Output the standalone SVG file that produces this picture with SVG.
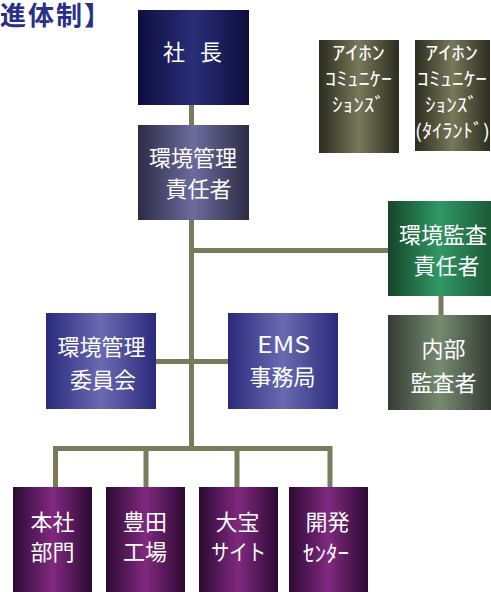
<svg xmlns="http://www.w3.org/2000/svg" width="491" height="592" viewBox="0 0 491 592">
<defs>
<linearGradient id="gNavy" x1="0" y1="0" x2="1" y2="0"><stop offset="0" stop-color="#0e0e3c"/><stop offset="0.5" stop-color="#2a2e7a"/><stop offset="1" stop-color="#0e0e3c"/></linearGradient>
<linearGradient id="gSlate" x1="0" y1="0" x2="1" y2="0"><stop offset="0" stop-color="#2c2c46"/><stop offset="0.5" stop-color="#6c6b9e"/><stop offset="1" stop-color="#2c2c46"/></linearGradient>
<linearGradient id="gGreen" x1="0" y1="0" x2="1" y2="0"><stop offset="0" stop-color="#164529"/><stop offset="0.5" stop-color="#2f9865"/><stop offset="1" stop-color="#1c5a38"/></linearGradient>
<linearGradient id="gGrey" x1="0" y1="0" x2="1" y2="0"><stop offset="0" stop-color="#343c32"/><stop offset="0.5" stop-color="#768b72"/><stop offset="1" stop-color="#343c32"/></linearGradient>
<linearGradient id="gBlue" x1="0" y1="0" x2="1" y2="0"><stop offset="0" stop-color="#2a2a7c"/><stop offset="0.5" stop-color="#6a6ab2"/><stop offset="1" stop-color="#2a2a7c"/></linearGradient>
<linearGradient id="gPurple" x1="0" y1="0" x2="1" y2="0"><stop offset="0" stop-color="#2c0a33"/><stop offset="0.5" stop-color="#80297f"/><stop offset="1" stop-color="#2c0a33"/></linearGradient>
<linearGradient id="gOlive" x1="0" y1="0" x2="1" y2="0"><stop offset="0" stop-color="#2c2c20"/><stop offset="0.5" stop-color="#78785a"/><stop offset="1" stop-color="#2c2c20"/></linearGradient>
</defs>
<style>
.t{font-family:"Noto Sans CJK JP","Noto Sans",sans-serif;font-size:22px;fill:#ffffff;text-anchor:middle}
.s{font-family:"Noto Sans CJK JP","Noto Sans",sans-serif;font-size:19px;fill:#ffffff;text-anchor:middle}
.c{stroke:#7a7a5c;stroke-width:5;fill:none}
.title{font-family:"Noto Sans CJK JP","Noto Sans",sans-serif;font-size:26px;font-weight:bold;fill:#283088;letter-spacing:2px}
</style>
<text class="title" x="0" y="25">進体制】</text>
<g id="connectors">
<line class="c" x1="191.5" y1="105" x2="191.5" y2="125"/>
<line class="c" x1="191.5" y1="220" x2="191.5" y2="450"/>
<line class="c" x1="191.5" y1="250.5" x2="388" y2="250.5"/>
<line class="c" x1="441" y1="296" x2="441" y2="315"/>
<line class="c" x1="156" y1="361.5" x2="228" y2="361.5"/>
<line class="c" x1="53" y1="448.5" x2="332" y2="448.5"/>
<line class="c" x1="55.5" y1="446" x2="55.5" y2="487"/>
<line class="c" x1="146" y1="446" x2="146" y2="487"/>
<line class="c" x1="237" y1="446" x2="237" y2="487"/>
<line class="c" x1="330" y1="446" x2="330" y2="487"/>
</g>
<g id="president"><rect x="138" y="10" width="111" height="95" fill="url(#gNavy)"/><text class="t" x="192.5" y="60" textLength="59" lengthAdjust="spacing">社 長</text></g>
<g id="env-manager"><rect x="138" y="125" width="111" height="95" fill="url(#gSlate)"/><text class="t" x="193" y="166">環境管理</text><text class="t" x="198.5" y="197">責任者</text></g>
<g id="audit-manager"><rect x="388" y="201" width="103" height="95" fill="url(#gGreen)"/><text class="t" x="443" y="243">環境監査</text><text class="t" x="446.5" y="274">責任者</text></g>
<g id="internal-auditor"><rect x="388" y="315" width="103" height="95" fill="url(#gGrey)"/><text class="t" x="443.5" y="357">内部</text><text class="t" x="443.5" y="391">監査者</text></g>
<g id="committee"><rect x="46" y="313" width="110" height="96" fill="url(#gBlue)"/><text class="t" x="101.5" y="355">環境管理</text><text class="t" x="103" y="388">委員会</text></g>
<g id="ems-office"><rect x="228" y="313" width="110" height="96" fill="url(#gBlue)"/><text class="t" x="283.5" y="353" style="font-size:23px" textLength="53" lengthAdjust="spacingAndGlyphs">EMS</text><text class="t" x="282.5" y="385">事務局</text></g>
<g id="aiphone-comm"><rect x="319" y="40" width="80" height="113" fill="url(#gOlive)"/><text class="s" x="358.5" y="60" textLength="53" lengthAdjust="spacingAndGlyphs">ｱｲﾎﾝ</text><text class="s" x="358.5" y="86" textLength="67" lengthAdjust="spacingAndGlyphs">ｺﾐｭﾆｹｰ</text><text class="s" x="358.5" y="112" textLength="53" lengthAdjust="spacingAndGlyphs">ｼｮﾝｽﾞ</text></g>
<g id="aiphone-thailand"><rect x="415" y="40" width="75" height="111" fill="url(#gOlive)"/><text class="s" x="451.5" y="60" textLength="53" lengthAdjust="spacingAndGlyphs">ｱｲﾎﾝ</text><text class="s" x="452" y="86" textLength="70" lengthAdjust="spacingAndGlyphs">ｺﾐｭﾆｹｰ</text><text class="s" x="451.5" y="112" textLength="53" lengthAdjust="spacingAndGlyphs">ｼｮﾝｽﾞ</text><text class="s" x="452.5" y="138" textLength="75" lengthAdjust="spacingAndGlyphs">(ﾀｲﾗﾝﾄﾞ)</text></g>
<g id="headquarters"><rect x="13" y="487" width="79" height="105" fill="url(#gPurple)"/><text class="t" x="52.5" y="530">本社</text><text class="t" x="52.5" y="560">部門</text></g>
<g id="toyota-plant"><rect x="106" y="487" width="79" height="105" fill="url(#gPurple)"/><text class="t" x="145" y="530">豊田</text><text class="t" x="145" y="560">工場</text></g>
<g id="ohtakara-site"><rect x="199" y="487" width="79" height="105" fill="url(#gPurple)"/><text class="t" x="237.5" y="530">大宝</text><text class="t" x="238.5" y="560" textLength="55" lengthAdjust="spacingAndGlyphs">サイト</text></g>
<g id="dev-center"><rect x="289" y="487" width="79" height="105" fill="url(#gPurple)"/><text class="t" x="327.5" y="530">開発</text><text class="t" x="326" y="561" textLength="46" lengthAdjust="spacingAndGlyphs">ｾﾝﾀｰ</text></g>
</svg>
